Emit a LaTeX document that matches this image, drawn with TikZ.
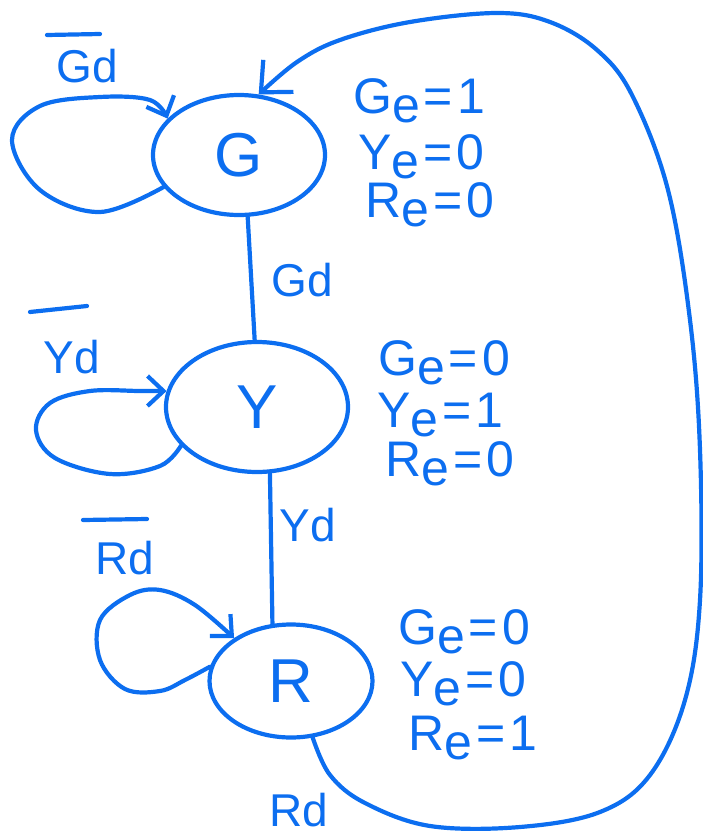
\documentclass[tikz,border=0pt]{standalone}
\usepackage{fontspec}
\setmainfont{Liberation Sans}
\usetikzlibrary{shapes.geometric,arrows.meta}
\definecolor{ink}{RGB}{12,110,240}
\newcommand{\sube}{\raisebox{-0.18em}{e}}
\newcommand{\eqs}{\kern4pt=\kern4pt}
\begin{document}
\begin{tikzpicture}[x=1pt,y=-1pt,
  pen/.style={draw=ink, line width=4.2pt, line cap=round, line join=round},
  statebox/.style={pen, ellipse, inner sep=0pt, text=ink,
    font=\fontsize{62}{62}\selectfont},
  cond/.style={text=ink, inner sep=0pt, font=\fontsize{46}{46}\selectfont},
  outv/.style={text=ink, inner sep=0pt, anchor=west,
    font=\fontsize{50}{50}\selectfont},
  selfloop/.style={pen, -{Straight Barb[length=16pt,width=30pt]}},
  bigtip/.style={pen, -{Straight Barb[length=24pt,width=44pt]}}
]
\useasboundingbox (0,0) rectangle (702,835);

% states
\node[statebox, minimum width=172pt, minimum height=120pt] (G) at (239,155) {G};
\node[statebox, minimum width=182pt, minimum height=130pt] (Y) at (257,407) {Y};
\node[statebox, minimum width=163pt, minimum height=113pt] (R) at (291,681) {R};

% transitions between states
\draw[pen] (G.278) -- (Y.92);
\draw[pen] (Y.281) -- (R.108);
\node[cond] (gdlab) at (302,280) {Gd};
\node[cond] (ydlab) at (308,525) {Yd};

% self loops with negated conditions
\draw[selfloop] plot[smooth, tension=0.6] coordinates
  {(G.203) (100,212) (40,190) (12,140) (40,106) (100,97) (150,100) (G.153)};
\node[cond] (gdbar) at (87,66) {Gd};
\draw[pen] (47,35) -- (100,34);

\draw[selfloop] plot[smooth, tension=0.6] coordinates
  {(Y.207) (160,466) (110,474) (55,458) (36,430) (50,403) (90,391) (140,391) (Y.170)};
\node[cond] (ydbar) at (72,357) {Yd};
\draw[pen] (30,312) -- (87,306);

\draw[selfloop] plot[smooth, tension=0.6] coordinates
  {(R.170) (185,680) (160,691) (125,689) (100,660) (100,620) (130,595) (160,590) (195,605) (R.143)};
\node[cond] (rdbar) at (125,558) {Rd};
\draw[pen] (83,520) -- (147,519);

% return from R to G
\draw[bigtip] plot[smooth, tension=0.6] coordinates
  {(R.291) (330,775) (365,803) (430,826) (520,827) (600,812) (650,775)
   (685,700) (700,600) (700,450) (690,320) (668,190) (632,95) (597,50)
   (550,22) (497,13) (410,22) (340,40) (297,62) (G.72)};
\node[cond] (rdlab) at (299,810) {Rd};

% outputs of G
\node[outv] (gG) at (353,101) {G\sube\eqs1};
\node[outv] (gY) at (358,157) {Y\sube\eqs0};
\node[outv] (gR) at (365,205) {R\sube\eqs0};
% outputs of Y
\node[outv] (yG) at (378,363) {G\sube\eqs0};
\node[outv] (yY) at (377,415) {Y\sube\eqs1};
\node[outv] (yR) at (385,464) {R\sube\eqs0};
% outputs of R
\node[outv] (rG) at (398,632) {G\sube\eqs0};
\node[outv] (rY) at (400,684) {Y\sube\eqs0};
\node[outv] (rR) at (408,738) {R\sube\eqs1};
\end{tikzpicture}
\end{document}
